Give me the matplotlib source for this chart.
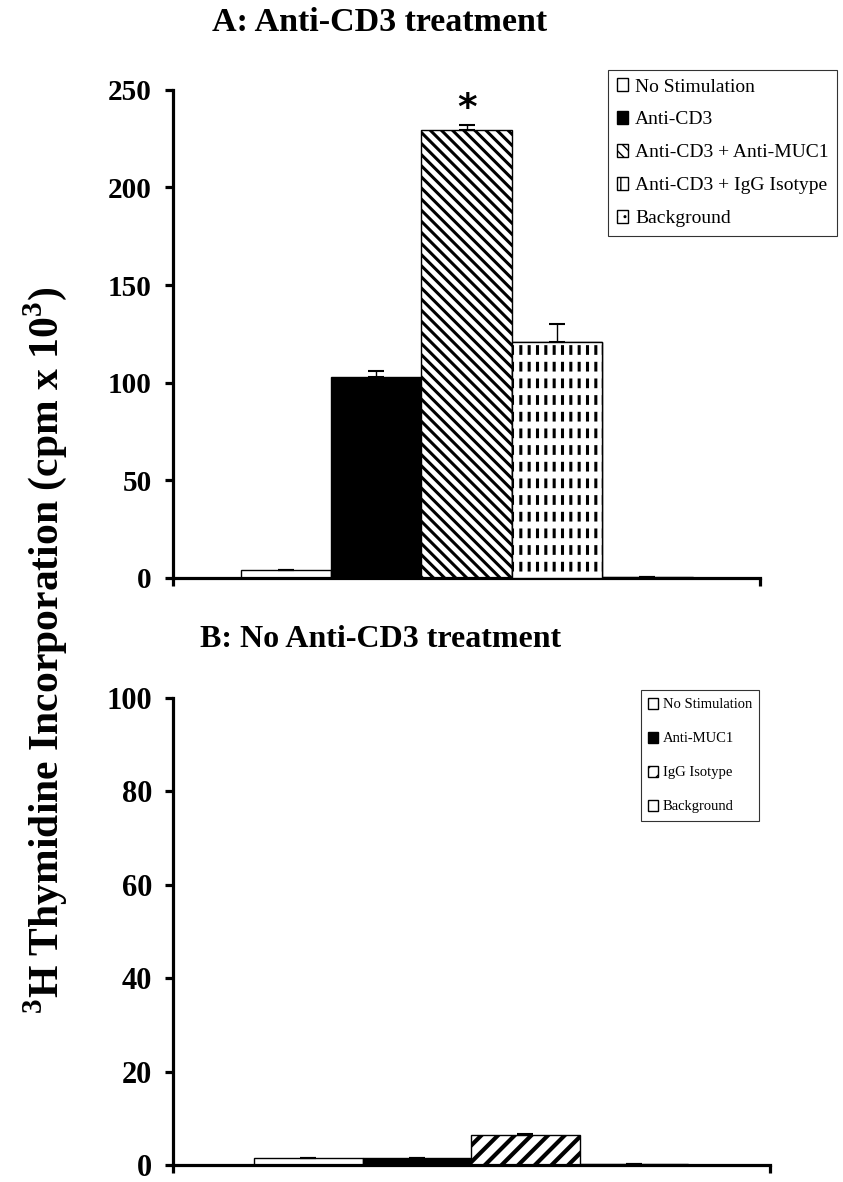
import matplotlib
matplotlib.use('Agg')
import matplotlib.pyplot as plt
import numpy as np

plt.rcParams['font.family'] = ['Liberation Serif', 'DejaVu Serif']
plt.rcParams['mathtext.fontset'] = 'custom'
plt.rcParams['mathtext.rm'] = 'Liberation Serif'
plt.rcParams['mathtext.bf'] = 'Liberation Serif:bold'

# Панель A: с обработкой Anti-CD3
groups_a = ['No Stimulation', 'Anti-CD3', 'Anti-CD3 + Anti-MUC1',
            'Anti-CD3 + IgG Isotype', 'Background']
values_a = [4.0, 103.0, 229.5, 121.0, 0.6]
errors_a = [0.3, 3.0, 2.5, 9.0, 0.0]

# Панель B: без обработки Anti-CD3
groups_b = ['No Stimulation', 'Anti-MUC1', 'IgG Isotype', 'Background']
values_b = [1.4, 1.4, 6.4, 0.3]
errors_b = [0.05, 0.05, 0.3, 0.0]

AXIS_LW = 2.3


def style_axis(ax, n, ymax, ystep):
    ax.set_xlim(-1.25, n - 1 + 1.25)
    ax.set_ylim(0, ymax)
    ax.spines['top'].set_visible(False)
    ax.spines['right'].set_visible(False)
    ax.spines['left'].set_linewidth(AXIS_LW)
    ax.spines['bottom'].set_linewidth(AXIS_LW)
    ax.spines['left'].set_capstyle('projecting')
    ax.set_yticks(np.arange(0, ymax + 1, ystep))
    ax.set_xticks([-1.25, n - 1 + 1.25])
    ax.set_xticklabels([])
    ax.tick_params(axis='y', direction='out', length=6, width=AXIS_LW, pad=9)
    ax.tick_params(axis='x', direction='out', length=6, width=AXIS_LW)


def hatch_lw(patches, lw):
    for p in patches:
        if hasattr(p, 'set_hatch_linewidth'):
            p.set_hatch_linewidth(lw)


fig = plt.figure(figsize=(8.43, 11.82), dpi=100)

# ---------- A ----------
ax1 = fig.add_axes([0.205, 0.511, 0.697, 0.413])
x_a = np.arange(len(values_a))
faces_a = ['white', 'black', 'white', 'white', 'white']
hatches_a = [None, None, '\\\\\\', '||', '..']
bars_a = []
for i in range(len(values_a)):
    with plt.rc_context({'hatch.linewidth': 2.2}):
        b = ax1.bar(x_a[i], values_a[i], width=1.0, color=faces_a[i],
                    edgecolor='black', linewidth=1.0, hatch=hatches_a[i],
                    zorder=2)
    hatch_lw(b, 2.2)
    bars_a.append(b[0])

# разрываем вертикальные линии штриховки в пунктир
with plt.rc_context({'hatch.linewidth': 5.0}):
    cover = ax1.bar(x_a[3], values_a[3], width=1.0, color='none',
                    edgecolor='white', linewidth=0, hatch='-', zorder=3)
hatch_lw(cover, 5.0)
ax1.bar(x_a[3], values_a[3], width=1.0, color='none', edgecolor='black',
        linewidth=1.0, zorder=4)

ax1.errorbar(x_a, values_a, yerr=[np.zeros(len(errors_a)), errors_a],
             fmt='none', ecolor='black', elinewidth=1.0, capsize=6,
             capthick=1.5, zorder=5)
ax1.text(x_a[2], 240, '*', ha='center', va='center', fontsize=27,
         fontweight='bold', family='DejaVu Sans')
style_axis(ax1, len(values_a), 250, 50)
for lab in ax1.get_yticklabels():
    lab.set_fontsize(21)
    lab.set_fontweight('bold')

leg1 = ax1.legend(bars_a, groups_a, loc='upper left',
                  bbox_to_anchor=(0.721, 0.941), bbox_transform=fig.transFigure,
                  fontsize=14, frameon=True, fancybox=False, edgecolor='black',
                  handlelength=0.6, handleheight=0.6, handletextpad=0.35,
                  labelspacing=0.82, borderpad=0.45, borderaxespad=0)
leg1.get_frame().set_linewidth(0.8)
fig.text(0.45, 0.981, 'A: Anti-CD3 treatment', ha='center', va='center',
         fontsize=24.5, fontweight='bold')

# ---------- B ----------
ax2 = fig.add_axes([0.205, 0.0144, 0.708, 0.395])
x_b = np.arange(len(values_b))
faces_b = ['white', 'black', 'white', 'white']
hatches_b = [None, None, '//', None]
bars_b = []
for i in range(len(values_b)):
    with plt.rc_context({'hatch.linewidth': 3.0}):
        b = ax2.bar(x_b[i], values_b[i], width=1.0, color=faces_b[i],
                    edgecolor='black', linewidth=1.0, hatch=hatches_b[i],
                    zorder=2)
    hatch_lw(b, 3.0)
    bars_b.append(b[0])
ax2.errorbar(x_b, values_b, yerr=[np.zeros(len(errors_b)), errors_b],
             fmt='none', ecolor='black', elinewidth=1.0, capsize=6,
             capthick=1.5, zorder=5)
style_axis(ax2, len(values_b), 100, 20)
for lab in ax2.get_yticklabels():
    lab.set_fontsize(22)
    lab.set_fontweight('bold')

leg2 = ax2.legend(bars_b, groups_b, loc='upper left',
                  bbox_to_anchor=(0.760, 0.416), bbox_transform=fig.transFigure,
                  fontsize=10.5, frameon=True, fancybox=False, edgecolor='black',
                  handlelength=0.7, handleheight=0.8, handletextpad=0.3,
                  labelspacing=1.4, borderpad=0.5, borderaxespad=0)
leg2.get_frame().set_linewidth(0.8)
fig.text(0.452, 0.459, 'B: No Anti-CD3 treatment', ha='center', va='center',
         fontsize=23, fontweight='bold')

# общая подпись оси Y
fig.text(0.054, 0.45,
         r'$^{\mathbf{3}}$H Thymidine Incorporation (cpm x 10$^{\mathbf{3}}$)',
         rotation=90, ha='center', va='center', fontsize=30, fontweight='bold')

fig.savefig('out.png', dpi=100)
